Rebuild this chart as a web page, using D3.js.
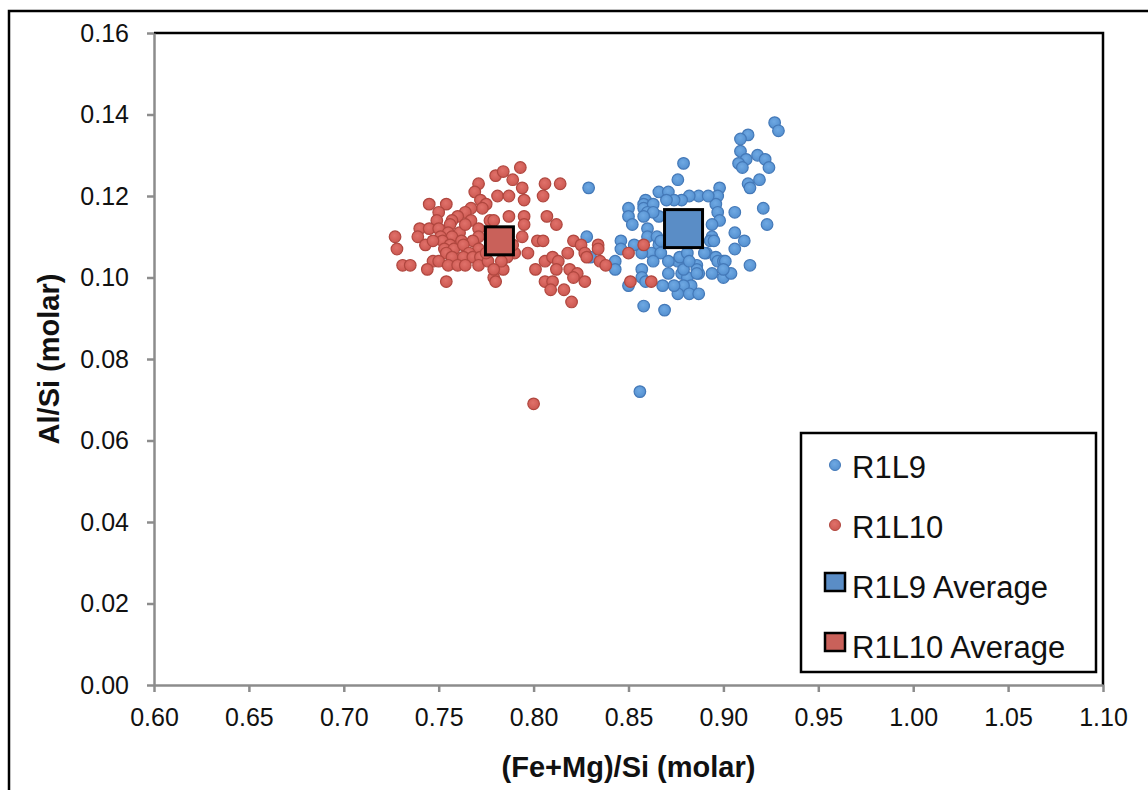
<!DOCTYPE html>
<html>
<head>
<meta charset="utf-8">
<script src="https://cdn.jsdelivr.net/npm/d3@7"></script>
<style>
  body { margin: 0; background: #fff; }
  svg { display: block; font-family: "Liberation Sans", Arial, sans-serif; }
</style>
</head>
<body>
<div id="chart"></div>
<script>
// scatter of Al/Si against (Fe+Mg)/Si for two samples

var xTicks = [0.60, 0.65, 0.70, 0.75, 0.80, 0.85, 0.90, 0.95, 1.00, 1.05, 1.10];
var yTicks = [0.00, 0.02, 0.04, 0.06, 0.08, 0.10, 0.12, 0.14, 0.16];

var seriesNames = ["R1L9", "R1L10", "R1L9 Average", "R1L10 Average"];

// [ (Fe+Mg)/Si, Al/Si ]
var r1l9 = [
  [0.927,0.138],[0.929,0.136],[0.913,0.135],[0.909,0.134],[0.909,0.131],[0.912,0.129],
  [0.908,0.128],[0.910,0.127],[0.918,0.130],[0.922,0.129],[0.924,0.127],[0.919,0.124],
  [0.913,0.123],[0.914,0.122],[0.921,0.117],[0.923,0.113],[0.906,0.116],[0.906,0.111],
  [0.911,0.109],[0.906,0.107],[0.914,0.103],[0.898,0.122],[0.897,0.120],[0.896,0.118],
  [0.897,0.116],[0.898,0.114],[0.894,0.113],[0.894,0.110],[0.893,0.109],[0.891,0.106],
  [0.896,0.105],[0.897,0.104],[0.900,0.104],[0.886,0.103],[0.894,0.101],[0.900,0.100],
  [0.904,0.101],[0.887,0.101],[0.887,0.120],[0.892,0.120],[0.879,0.128],[0.876,0.124],
  [0.829,0.122],[0.866,0.121],[0.871,0.121],[0.882,0.120],[0.878,0.119],[0.874,0.119],
  [0.870,0.119],[0.859,0.119],[0.858,0.118],[0.850,0.117],[0.850,0.115],[0.852,0.113],
  [0.858,0.117],[0.863,0.118],[0.866,0.115],[0.860,0.112],[0.860,0.110],[0.865,0.110],
  [0.866,0.108],[0.862,0.106],[0.867,0.106],[0.857,0.106],[0.846,0.109],[0.846,0.107],
  [0.853,0.108],[0.843,0.104],[0.843,0.102],[0.857,0.102],[0.863,0.104],[0.857,0.100],
  [0.859,0.099],[0.850,0.098],[0.858,0.093],[0.869,0.092],[0.871,0.101],[0.876,0.104],
  [0.877,0.105],[0.878,0.101],[0.881,0.100],[0.883,0.098],[0.879,0.098],[0.876,0.096],
  [0.882,0.096],[0.887,0.096],[0.886,0.102],[0.886,0.101],[0.895,0.109],[0.901,0.104],
  [0.860,0.116],[0.863,0.116],[0.858,0.115],[0.881,0.106],[0.874,0.098],[0.868,0.098],
  [0.879,0.102],[0.828,0.110],[0.830,0.105],[0.856,0.072],[0.890,0.106],[0.867,0.109],
  [0.871,0.104],[0.882,0.104],[0.900,0.102]
];

var r1l10 = [
  [0.793,0.127],[0.780,0.125],[0.784,0.126],[0.789,0.124],[0.794,0.122],[0.806,0.123],
  [0.814,0.123],[0.805,0.120],[0.795,0.119],[0.781,0.120],[0.787,0.120],[0.771,0.123],
  [0.769,0.121],[0.772,0.119],[0.775,0.118],[0.773,0.117],[0.745,0.118],[0.754,0.118],
  [0.750,0.116],[0.767,0.117],[0.764,0.116],[0.767,0.114],[0.760,0.115],[0.749,0.114],
  [0.757,0.114],[0.756,0.113],[0.740,0.112],[0.745,0.112],[0.750,0.112],[0.755,0.111],
  [0.761,0.111],[0.771,0.112],[0.777,0.114],[0.727,0.110],[0.739,0.110],[0.751,0.110],
  [0.757,0.110],[0.762,0.109],[0.771,0.110],[0.752,0.109],[0.756,0.108],[0.768,0.109],
  [0.728,0.107],[0.743,0.108],[0.753,0.107],[0.758,0.107],[0.763,0.108],[0.771,0.107],
  [0.766,0.106],[0.754,0.106],[0.757,0.105],[0.763,0.105],[0.768,0.105],[0.772,0.105],
  [0.747,0.104],[0.731,0.103],[0.735,0.103],[0.744,0.102],[0.750,0.104],[0.755,0.103],
  [0.760,0.103],[0.764,0.103],[0.771,0.103],[0.776,0.104],[0.779,0.100],[0.754,0.099],
  [0.787,0.115],[0.795,0.115],[0.795,0.113],[0.807,0.115],[0.812,0.113],[0.779,0.114],
  [0.794,0.110],[0.802,0.109],[0.805,0.109],[0.821,0.109],[0.825,0.108],[0.827,0.106],
  [0.828,0.105],[0.818,0.106],[0.834,0.108],[0.834,0.107],[0.835,0.104],[0.838,0.103],
  [0.797,0.106],[0.801,0.102],[0.806,0.104],[0.810,0.105],[0.813,0.104],[0.812,0.102],
  [0.819,0.102],[0.823,0.101],[0.821,0.100],[0.827,0.099],[0.806,0.099],[0.810,0.099],
  [0.809,0.097],[0.816,0.097],[0.820,0.094],[0.784,0.102],[0.780,0.099],[0.790,0.106],
  [0.786,0.105],[0.850,0.106],[0.858,0.108],[0.851,0.099],[0.862,0.099],[0.800,0.069],
  [0.764,0.113],[0.775,0.106],[0.783,0.104],[0.789,0.108],[0.779,0.102],[0.747,0.109]
];

var r1l9Average = [0.879, 0.112];
var r1l10Average = [0.782, 0.109];

var w = 1148,
    h = 790;

var margin = {top: 33, right: 45, bottom: 105, left: 154};

var svg = d3.select("#chart")
            .append("svg")
            .attr("width", w)
            .attr("height", h);

// soft shading on the markers, like the spreadsheet's
var defs = svg.append("defs");
function shade(id, light, dark){
  var g = defs.append("radialGradient")
              .attr("id", id)
              .attr("cx", "45%").attr("cy", "40%").attr("r", "60%");
  g.append("stop").attr("offset", "0%").attr("stop-color", light);
  g.append("stop").attr("offset", "100%").attr("stop-color", dark);
}
shade("gBlue", "#6fa9e3", "#5490d0");
shade("gRed", "#e0716a", "#cc5851");

// outer frame of the chart object
svg.append("rect")
   .attr("x", 9)
   .attr("y", 11)
   .attr("width", w + 20)
   .attr("height", h + 20)
   .attr("fill", "none")
   .attr("stroke", "#000")
   .attr("stroke-width", 2.5);

var x = d3.scaleLinear()
          .domain([0.60, 1.10])
          .range([margin.left, w - margin.right]);

var y = d3.scaleLinear()
          .domain([0, 0.16])
          .range([h - margin.bottom, margin.top]);

var fmt = d3.format(".2f");

// top and right border of the plot area
svg.append("path")
   .attr("d", "M" + x(0.60) + "," + y(0.16) + "H" + x(1.10) + "V" + y(0))
   .attr("fill", "none")
   .attr("stroke", "#000")
   .attr("stroke-width", 2.5);

var xAxis = svg.append("g")
   .attr("transform", "translate(0," + y(0) + ")")
   .call(d3.axisBottom(x).tickValues(xTicks).tickFormat(fmt).tickSize(7).tickPadding(16).tickSizeOuter(0));

var yAxis = svg.append("g")
   .attr("transform", "translate(" + x(0.60) + ",0)")
   .call(d3.axisLeft(y).tickValues(yTicks).tickFormat(fmt).tickSize(7).tickPadding(18).tickSizeOuter(0));

[xAxis, yAxis].forEach(function(a){
  a.select(".domain").attr("stroke", "#8c8c8c").attr("stroke-width", 2.5);
  a.selectAll(".tick line").attr("stroke", "#8c8c8c").attr("stroke-width", 2.5);
  a.selectAll(".tick text")
   .attr("fill", "#111")
   .attr("font-size", "25px")
   .attr("font-family", "Liberation Sans, Arial, sans-serif");
});

// axis titles
svg.append("text")
   .attr("x", (x(0.60) + x(1.10)) / 2)
   .attr("y", 777)
   .attr("text-anchor", "middle")
   .attr("font-size", "29px")
   .attr("font-weight", "bold")
   .attr("fill", "#111")
   .text("(Fe+Mg)/Si (molar)");

svg.append("text")
   .attr("transform", "translate(59," + y(0.08) + ") rotate(-90)")
   .attr("text-anchor", "middle")
   .attr("font-size", "29px")
   .attr("font-weight", "bold")
   .attr("fill", "#111")
   .text("Al/Si (molar)");

var blue = {fill: "url(#gBlue)", stroke: "#4479b8"};
var red  = {fill: "url(#gRed)", stroke: "#b0473f"};

var pts = svg.append("g");

pts.selectAll(".r1l9")
   .data(r1l9)
   .enter()
   .append("circle")
   .attr("class", "r1l9")
   .attr("cx", function(d){ return x(d[0]); })
   .attr("cy", function(d){ return y(d[1]); })
   .attr("r", 5.8)
   .attr("fill", blue.fill)
   .attr("stroke", blue.stroke)
   .attr("stroke-width", 1.2);

pts.selectAll(".r1l10")
   .data(r1l10)
   .enter()
   .append("circle")
   .attr("class", "r1l10")
   .attr("cx", function(d){ return x(d[0]); })
   .attr("cy", function(d){ return y(d[1]); })
   .attr("r", 5.8)
   .attr("fill", red.fill)
   .attr("stroke", red.stroke)
   .attr("stroke-width", 1.2);

// averages
var avgs = [
  {p: r1l9Average, size: 38, fill: "#5a8dc6"},
  {p: r1l10Average, size: 28, fill: "#c9615a"}
];

pts.selectAll(".avg")
   .data(avgs)
   .enter()
   .append("rect")
   .attr("class", "avg")
   .attr("x", function(d){ return x(d.p[0]) - d.size / 2; })
   .attr("y", function(d){ return y(d.p[1]) - d.size / 2; })
   .attr("width", function(d){ return d.size; })
   .attr("height", function(d){ return d.size; })
   .attr("fill", function(d){ return d.fill; })
   .attr("stroke", "#000")
   .attr("stroke-width", 3);

// legend
var lg = svg.append("g").attr("transform", "translate(801,433)");

lg.append("rect")
  .attr("width", 295)
  .attr("height", 239)
  .attr("fill", "#fff")
  .attr("stroke", "#000")
  .attr("stroke-width", 2.5);

var legendRows = lg.selectAll(".row")
  .data(seriesNames)
  .enter()
  .append("g")
  .attr("class", "row")
  .attr("transform", function(d, i){ return "translate(0," + (34 + i * 60) + ")"; });

legendRows.each(function(d, i){
  var row = d3.select(this);
  var c = (i % 2 === 0) ? blue : red;
  if (i < 2) {
    row.append("circle")
       .attr("cx", 34)
       .attr("cy", -2)
       .attr("r", 5.5)
       .attr("fill", c.fill)
       .attr("stroke", c.stroke)
       .attr("stroke-width", 1);
  } else {
    row.append("rect")
       .attr("x", 24)
       .attr("y", -14)
       .attr("width", 20)
       .attr("height", 18)
       .attr("fill", avgs[i - 2].fill)
       .attr("stroke", "#000")
       .attr("stroke-width", 2.5);
  }
  row.append("text")
     .attr("x", 51)
     .attr("y", 11)
     .attr("font-size", "31px")
     .attr("fill", "#111")
     .text(d);
});
</script>
</body>
</html>
